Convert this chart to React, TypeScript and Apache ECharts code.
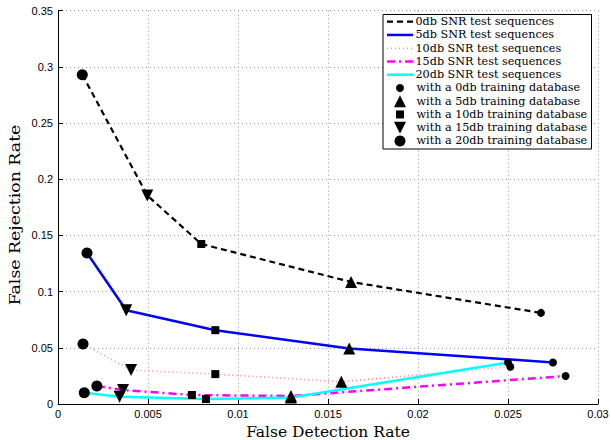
import React, { useEffect, useRef } from "react";
import * as echarts from "echarts";

// Test sequence series (points ordered by training database: 20db, 15db, 10db, 5db, 0db)
const testNames = [
  "0db SNR test sequences",
  "5db SNR test sequences",
  "10db SNR test sequences",
  "15db SNR test sequences",
  "20db SNR test sequences",
];
const x0db = [0.00135, 0.00496, 0.00796, 0.01628, 0.02683];
const y0db = [0.2931, 0.1856, 0.1424, 0.1086, 0.0811];
const x5db = [0.00161, 0.00379, 0.00874, 0.01618, 0.0275];
const y5db = [0.1344, 0.0835, 0.0657, 0.0494, 0.037];
const x10db = [0.00139, 0.00406, 0.00874, 0.01574, 0.02513];
const y10db = [0.0533, 0.0302, 0.0266, 0.0198, 0.0331];
const x15db = [0.00216, 0.00361, 0.00744, 0.01294, 0.0282];
const y15db = [0.016, 0.0124, 0.008, 0.0071, 0.0249];
const x20db = [0.00146, 0.00342, 0.00822, 0.01294, 0.025];
const y20db = [0.01, 0.0065, 0.0044, 0.0058, 0.037];

// Training database names, in the same order as the points above
const trainNames = [
  "with a 20db training database",
  "with a 15db training database",
  "with a 10db training database",
  "with a 5db training database",
  "with a 0db training database",
];
const legendMarkerOrder = [
  "with a 0db training database",
  "with a 5db training database",
  "with a 10db training database",
  "with a 15db training database",
  "with a 20db training database",
];

const xTicks = { min: 0, max: 0.03, interval: 0.005 };
const yTicks = { min: 0, max: 0.35, interval: 0.05 };
const xTitle = "False Detection Rate";
const yTitle = "False Rejection Rate";

const lineStyles = [
  { color: "#000000", width: 2.2, type: [6, 4] },
  { color: "#0000ff", width: 2.5, type: "solid" },
  { color: "#ff8c8c", width: 1.6, type: [1, 3] },
  { color: "#ff00ff", width: 2.5, type: [8, 4, 2, 4] },
  { color: "#00ffff", width: 2.5, type: "solid" },
];

const markerStyles: Record<string, { symbol: string; size: number; rotate: number }> = {
  "with a 0db training database": { symbol: "circle", size: 8, rotate: 0 },
  "with a 5db training database": { symbol: "triangle", size: 12, rotate: 0 },
  "with a 10db training database": { symbol: "rect", size: 8, rotate: 0 },
  "with a 15db training database": { symbol: "triangle", size: 12, rotate: 180 },
  "with a 20db training database": { symbol: "circle", size: 11, rotate: 0 },
};

export default function App() {
  const ref = useRef<HTMLDivElement>(null);
  useEffect(() => {
    if (!ref.current) return;
    document.body.style.margin = "0";
    const chart = echarts.init(ref.current, null, { renderer: "svg" });
    const xs = [x0db, x5db, x10db, x15db, x20db];
    const ys = [y0db, y5db, y10db, y15db, y20db];

    const lineSeries = testNames.map((name, i) => ({
      name,
      type: "line",
      symbol: "none",
      data: xs[i].map((x, k) => [x, ys[i][k]]),
      lineStyle: { ...lineStyles[i] },
      itemStyle: { color: lineStyles[i].color },
      z: 2,
    }));

    const scatterSeries = trainNames.map((name, k) => ({
      name,
      type: "scatter",
      symbol: markerStyles[name].symbol,
      symbolSize: markerStyles[name].size,
      symbolRotate: markerStyles[name].rotate,
      data: xs.map((xArr, i) => [xArr[k], ys[i][k]]),
      itemStyle: { color: "#000000", opacity: 1 },
      z: 5,
    }));

    // Legend drawn as graphic
    const lx = 383, ly = 14.5, lw = 208.5, lh = 134.5;
    const row0 = 21.7, rowGap = 13.25;
    const legendEls: any[] = [
      {
        type: "rect",
        shape: { x: lx, y: ly, width: lw, height: lh },
        style: { fill: "#ffffff", stroke: "#000000", lineWidth: 1 },
        z: 100,
      },
    ];
    testNames.forEach((name, i) => {
      const y = row0 + i * rowGap;
      const st = lineStyles[i];
      legendEls.push({
        type: "line",
        shape: { x1: 387, y1: y, x2: 413, y2: y },
        style: {
          stroke: st.color,
          lineWidth: st.width,
          lineDash: st.type === "solid" ? null : st.type,
        },
        z: 101,
      });
      legendEls.push({
        type: "text",
        x: 415.5,
        y,
        style: {
          text: name,
          fontFamily: "DejaVu Serif",
          fontSize: 11.2,
          fill: "#000000",
          verticalAlign: "middle",
          align: "left",
        },
        z: 101,
      });
    });
    legendMarkerOrder.forEach((name, j) => {
      const y = row0 + (j + 5) * rowGap;
      const m = markerStyles[name];
      const cx = 400;
      let el: any;
      if (m.symbol === "circle") {
        el = { type: "circle", shape: { cx, cy: y, r: m.size / 2 } };
      } else if (m.symbol === "rect") {
        el = { type: "rect", shape: { x: cx - m.size / 2, y: y - m.size / 2, width: m.size, height: m.size } };
      } else if (m.rotate === 0) {
        const h = m.size / 2;
        el = { type: "polygon", shape: { points: [[cx, y - h], [cx + h, y + h], [cx - h, y + h]] } };
      } else {
        const h = m.size / 2;
        el = { type: "polygon", shape: { points: [[cx, y + h], [cx + h, y - h], [cx - h, y - h]] } };
      }
      el.style = { fill: "#000000" };
      el.z = 101;
      legendEls.push(el);
      legendEls.push({
        type: "text",
        x: 416.5,
        y,
        style: {
          text: name,
          fontFamily: "DejaVu Serif",
          fontSize: 11.2,
          fill: "#000000",
          verticalAlign: "middle",
          align: "left",
        },
        z: 101,
      });
    });

    // Y axis title (slightly stretched along its length, as in the reference)
    legendEls.push({
      type: "text",
      x: 15,
      y: 215,
      rotation: Math.PI / 2,
      scaleX: 1.12,
      style: {
        text: yTitle,
        fontFamily: "DejaVu Serif",
        fontSize: 15.5,
        fill: "#000000",
        align: "center",
        verticalAlign: "middle",
      },
      z: 50,
    });

    const axisLabel = { color: "#000000", fontFamily: "Liberation Sans", fontSize: 11 };
    const splitLine = { show: true, lineStyle: { color: "#999999", type: [1, 3], width: 1 } };

    chart.setOption({
      animation: false,
      backgroundColor: "#ffffff",
      grid: { left: 58, right: 12, top: 10.7, bottom: 36, containLabel: false, outerBoundsMode: "none" },
      xAxis: {
        type: "value",
        min: xTicks.min,
        max: xTicks.max,
        interval: xTicks.interval,
        name: xTitle,
        nameLocation: "middle",
        nameGap: 18,
        nameTextStyle: { fontFamily: "DejaVu Serif", fontSize: 15.5, color: "#000000" },
        axisLine: { show: true, lineStyle: { color: "#000000", width: 1 } },
        axisTick: { show: true, inside: true, length: 5, lineStyle: { color: "#000000" } },
        axisLabel: { ...axisLabel, margin: 4 },
        splitLine,
      },
      yAxis: {
        type: "value",
        min: yTicks.min,
        max: yTicks.max,
        interval: yTicks.interval,
        axisLine: { show: true, lineStyle: { color: "#000000", width: 1 } },
        axisTick: { show: true, inside: true, length: 5, lineStyle: { color: "#000000" } },
        axisLabel: { ...axisLabel, margin: 5 },
        splitLine,
      },
      series: [...lineSeries, ...scatterSeries],
      graphic: legendEls,
    });
    return () => chart.dispose();
  }, []);
  return <div ref={ref} style={{ width: 610, height: 440 }} />;
}
